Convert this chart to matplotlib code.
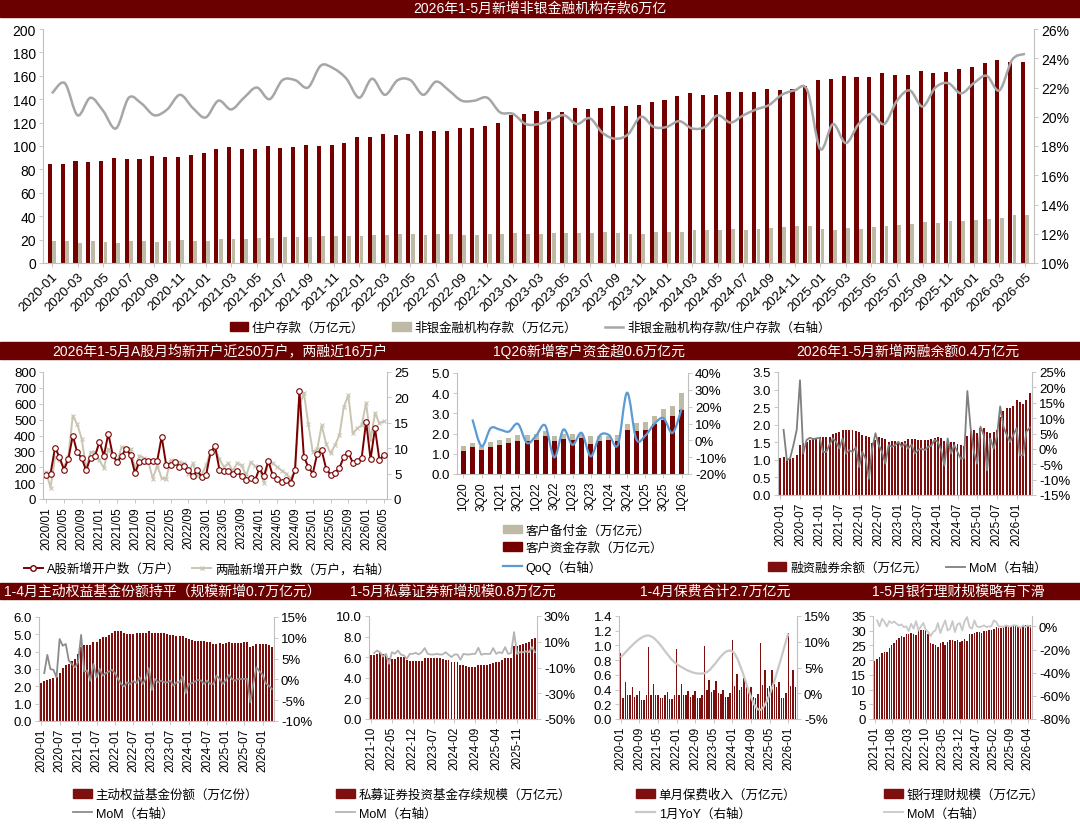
import numpy as np
import pandas as pd
import matplotlib
matplotlib.use("Agg")
import matplotlib.pyplot as plt
from matplotlib.patches import Rectangle, Patch, PathPatch
from matplotlib.lines import Line2D
from matplotlib.path import Path
from matplotlib.ticker import FuncFormatter, MultipleLocator

plt.rcParams['font.family'] = ['Liberation Sans', 'Noto Sans CJK SC', 'DejaVu Sans']
plt.rcParams['axes.unicode_minus'] = False

# ---------------- data ----------------
# top: household deposits / non-bank deposits (2020-01 .. 2026-05)
months_top = pd.period_range('2020-01', '2026-05', freq='M').strftime('%Y-%m').tolist()
household_dep = [85, 85, 87.6, 86.7, 87, 89.6, 88.8, 89.3, 91.4, 90.2, 91, 92.5,
                 94, 97.4, 99.1, 97.7, 97.7, 99.7, 98.6, 98.8, 100.9, 99.7, 100.6, 102.3,
                 107.8, 107.5, 110, 109.2, 110, 112.7, 112.4, 113, 115.6, 115.3, 117, 119.9,
                 126.5, 127.4, 130.3, 129.1, 129.4, 132.3, 131.4, 132.3, 134.6, 134.3, 135.2, 137.2,
                 139.5, 142.7, 145.5, 143.5, 143.8, 146.4, 145.8, 146.4, 148.7, 148.1, 149, 151,
                 156.8, 157.3, 160.2, 158.8, 159.4, 162, 160.8, 160.8, 163.7, 162.5, 163.4, 165.7,
                 167.7, 171.2, 173.5, 171.5, 171.5]
nonbank_dep = [18.7, 18.5, 17.5, 18.5, 18, 17.5, 18.7, 18.7, 18.2, 18.7, 19.3, 18.7,
               18.7, 20.3, 20.3, 20.6, 21, 21.3, 22, 22, 22, 23, 23, 23,
               22.8, 24, 23.6, 24.5, 24.5, 24, 24.8, 24.5, 23.9, 23.9, 24.8, 24.5,
               25.4, 25, 24.8, 25.6, 25.6, 25.6, 25.6, 26.2, 25.4, 24.8, 24.8, 26.5,
               26.5, 26.5, 28.2, 27.9, 27.9, 28.8, 28.5, 29, 29.7, 30.8, 31.7, 32,
               28.8, 28.2, 30.3, 29, 30.5, 32, 32.2, 33.7, 35.2, 34.5, 35.7, 35.7,
               36.6, 37.5, 38.6, 40.6, 41.2]
ratio_pct = [21.6, 22.3, 20.1, 21.3, 20.4, 19.2, 21.3, 20.9, 20.1, 20.5, 21.5, 20.6,
             19.95, 21.1, 20.5, 21.3, 22.0, 21.2, 22.5, 22.5, 22.0, 23.5, 23.3, 22.6,
             21.3, 22.6, 21.5, 22.5, 22.5, 21.5, 22.4, 21.8, 21.1, 21.1, 21.3, 20.3,
             20.2, 19.5, 19.5, 19.8, 20.1, 19.5, 19.9, 18.9, 18.5, 18.8, 20.0, 19.3,
             19.3, 19.7, 19.2, 19.3, 20.1, 19.6, 20.1, 20.5, 20.8, 21.5, 21.8, 21.8,
             17.8, 19.5, 18.2, 19.5, 20.2, 19.5, 21.1, 21.8, 20.7, 22.0, 22.3, 21.6,
             22.3, 22.8, 21.8, 23.9, 24.3]

# middle 1: new A-share accounts / new margin accounts (2020/01 .. 2026/05)
months_m1 = pd.period_range('2020-01', '2026-05', freq='M').strftime('%Y/%m').tolist()
a_new_accounts = [149, 160, 323, 265, 185, 250, 400, 293, 259, 180,
                  261, 270, 361, 272, 412, 276, 234, 272, 318, 276,
                  163, 234, 240, 238, 238, 240, 393, 217, 212, 234,
                  202, 208, 180, 144, 180, 140, 153, 293, 333, 185,
                  174, 176, 159, 176, 142, 121, 134, 117, 193, 142,
                  240, 149, 127, 110, 117, 102, 180, 680, 265, 202,
                  159, 286, 308, 191, 153, 166, 197, 265, 291, 229,
                  242, 259, 488, 250, 446, 244, 280]
margin_new_accounts = [5.3, 2.2, 8.3, 7.6, 6.3, 8.3, 16.4, 14.7, 11.9, 6.0,
                       9.2, 9.2, 7.6, 6.1, 9.9, 8.3, 7.3, 10.3, 9.9, 9.9,
                       6.0, 8.5, 8.1, 7.3, 4.0, 6.6, 4.1, 4.0, 7.6, 7.2,
                       7.2, 7.0, 5.0, 7.0, 4.6, 4.8, 6.6, 9.3, 9.9, 7.8,
                       6.3, 7.0, 5.6, 7.0, 6.6, 4.6, 7.2, 6.5, 6.0, 3.2,
                       7.3, 7.0, 6.3, 5.6, 5.0, 4.0, 5.6, 18.2, 20.9, 14.7,
                       9.3, 9.8, 14.5, 10.9, 9.0, 10.6, 12.6, 18.2, 20.4, 12.9,
                       13.9, 14.5, 18.9, 11.6, 16.9, 14.9, 15.3]

# middle 2: client funds, quarterly 1Q20 .. 1Q26
quarters = [f'{q}Q{y}' for y in range(20, 27) for q in range(1, 5)][:25]
client_deposit = [1.16, 1.32, 1.21, 1.32, 1.46, 1.54, 1.62, 1.62, 1.69, 1.90, 1.61, 1.74, 1.69,
                  1.77, 1.49, 1.61, 1.66, 1.62, 2.19, 2.12, 2.19, 2.47, 2.68, 2.86, 3.19]
client_reserve = [0.21, 0.22, 0.20, 0.25, 0.23, 0.25, 0.33, 0.32, 0.28, 0.25, 0.29, 0.25, 0.30,
                  0.22, 0.38, 0.29, 0.24, 0.32, 0.29, 0.40, 0.38, 0.38, 0.55, 0.53, 0.82]
client_qoq = [12.4, -3.5, 7.2, 6.4, 5.2, 9.8, -1.6, 2.8, 8.8, -10.1, 6.4, -2.7,
              4.4, -9.5, 2.8, 3.2, -2.7, 28.3, 0.8, 2.8, 9.8, 13.2, 4.4, 18.7]

# middle 3: margin balance (2020-01 .. 2026-05)
months_m3 = pd.period_range('2020-01', '2026-05', freq='M').strftime('%Y-%m').tolist()
margin_balance = [1.04, 1.08, 1.02, 1.02, 1.06, 1.15, 1.42, 1.47, 1.50, 1.57,
                  1.61, 1.63, 1.65, 1.64, 1.65, 1.65, 1.73, 1.77, 1.78, 1.85,
                  1.84, 1.84, 1.84, 1.83, 1.80, 1.71, 1.69, 1.64, 1.48, 1.56,
                  1.66, 1.61, 1.58, 1.51, 1.53, 1.53, 1.51, 1.51, 1.55, 1.58,
                  1.58, 1.59, 1.56, 1.56, 1.56, 1.56, 1.59, 1.63, 1.65, 1.63,
                  1.53, 1.50, 1.50, 1.50, 1.46, 1.42, 1.40, 1.69, 1.83, 1.85,
                  1.76, 1.92, 1.90, 1.78, 1.76, 1.78, 1.84, 2.23, 2.38, 2.47,
                  2.47, 2.53, 2.70, 2.65, 2.60, 2.70, 2.89]
margin_mom = [np.nan, 6.2, -3.7, -3.0, 1.2, 6.2, 22.3, -1.5, 2.9, 3.6,
              3.2, 3.4, 3.6, -1.0, -1.0, 1.4, 3.4, 2.3, 0.1, 3.4,
              -1.5, -0.4, -1.0, 0.5, -5.9, -1.0, -3.2, -9.7, 0.1, 5.1,
              1.2, -1.0, -4.8, 1.2, 0.7, 1.2, 2.3, 0.7, 1.8, 0.1,
              1.4, -1.5, -0.4, 0.1, -0.4, 0.6, 1.0, 2.9, 2.3, -0.4,
              -5.4, 3.4, -1.5, 1.2, -1.0, -3.2, -3.0, 18.8, 6.7, -1.0,
              -4.8, 7.2, 4.5, -7.0, 3.4, 0.1, 4.0, 13.8, 7.2, 4.5,
              2.3, 4.5, 6.7, -2.1, -2.1, 5.6, 6.9]

# bottom 1: active equity fund shares (2020-01 .. 2026-04)
months_b1 = pd.period_range('2020-01', '2026-04', freq='M').strftime('%Y-%m').tolist()
equity_fund_shares = [2.20, 2.28, 2.37, 2.43, 2.47, 2.52, 2.77, 3.04, 3.25, 3.31,
                      3.44, 3.55, 3.84, 4.25, 4.36, 4.39, 4.39, 4.53, 4.53, 4.72,
                      4.86, 4.86, 4.96, 5.05, 5.20, 5.20, 5.20, 5.06, 5.01, 5.01,
                      5.01, 5.05, 5.05, 5.09, 5.07, 5.20, 5.09, 5.07, 5.07, 5.05,
                      5.05, 5.01, 4.96, 4.94, 4.91, 4.89, 4.93, 4.76, 4.72, 4.68,
                      4.63, 4.63, 4.59, 4.59, 4.55, 4.55, 4.44, 4.47, 4.51, 4.47,
                      4.51, 4.57, 4.51, 4.51, 4.51, 4.51, 4.53, 4.53, 4.28, 4.30,
                      4.44, 4.47, 4.47, 4.44, 4.38, 4.28]
equity_fund_mom = [np.nan, 1.5, 5.9, 2.5, 2.3, 0.5, 9.7, 8.1, 8.5, 4.5,
                   3.7, 2.9, 4.1, 10.7, 1.9, 2.1, -0.3, 3.7, 0.5, 2.5,
                   0.9, 1.5, 1.9, 2.3, 1.5, 0.1, -1.1, -1.7, -0.7, -1.1,
                   -0.4, -0.9, 0.5, -1.1, 0.1, 2.7, -2.5, 0.1, -0.7, -0.3,
                   -0.7, -0.7, -0.3, -1.5, -0.7, -0.7, 0.7, -3.3, -1.1, -0.9,
                   -0.5, -0.1, -0.3, -1.1, -0.3, -1.1, -1.1, 0.9, 0.1, -1.1,
                   -0.3, 1.1, 0.1, -0.3, 0.1, 0.1, 0.1, 0.1, -5.5, -0.9,
                   2.9, 1.9, 1.1, -0.9, -1.5, -2.3]

# bottom 2: private securities funds (2021-10 .. 2026-05)
months_b2 = pd.period_range('2021-10', '2026-05', freq='M').strftime('%Y-%m').tolist()
private_funds = [6.17, 6.23, 6.33, 6.43, 6.33, 6.20, 5.94, 5.84, 5.84, 6.00,
                 6.04, 6.00, 5.68, 5.62, 5.62, 5.65, 5.65, 5.65, 5.94, 5.97,
                 5.97, 5.94, 5.94, 5.88, 5.78, 5.75, 5.75, 5.58, 5.52, 5.49,
                 5.26, 5.23, 5.19, 5.06, 5.06, 5.06, 5.26, 5.29, 5.26, 5.29,
                 5.32, 5.45, 5.55, 5.58, 5.68, 5.94, 5.97, 5.97, 7.05, 7.08,
                 7.14, 7.31, 7.37, 7.47, 7.79, 7.89]
private_mom = [np.nan, 1.2, 3.2, 1.9, -1.4, 0.6, -7.1, 1.9, 0.6, 3.2,
               0.1, -0.6, -3.2, 0.6, 0.6, 1.4, 0.1, 1.9, 5.1, 0.6,
               0.1, 0.1, 0.6, 0.1, 0.1, 1.9, -0.1, -1.9, 0.1, 0.1,
               -4.0, 0.6, 0.1, 0.1, 0.6, 0.6, 5.3, -0.1, 0.6, 0.6,
               0.6, 5.1, 0.6, 1.9, 1.2, 5.8, 0.6, 1.2, 17.5, 0.6,
               1.9, 1.9, 2.5, 1.9, 5.8, 1.9]

# bottom 3: monthly premium income (2020-01 .. 2026-04), January YoY
months_b3 = pd.period_range('2020-01', '2026-04', freq='M').strftime('%Y-%m').tolist()
premium = [0.90, 0.28, 0.50, 0.33, 0.33, 0.43, 0.30, 0.33, 0.38, 0.26, 0.26, 0.33,
           0.98, 0.33, 0.48, 0.33, 0.33, 0.28, 0.29, 0.32, 0.37, 0.27, 0.27, 0.33,
           0.95, 0.33, 0.48, 0.33, 0.33, 0.38, 0.30, 0.33, 0.38, 0.28, 0.28, 0.33,
           0.99, 0.40, 0.53, 0.37, 0.40, 0.52, 0.36, 0.34, 0.40, 0.30, 0.30, 0.35,
           1.07, 0.45, 0.61, 0.40, 0.43, 0.56, 0.43, 0.38, 0.43, 0.30, 0.28, 0.34,
           1.03, 0.46, 0.66, 0.42, 0.45, 0.67, 0.47, 0.44, 0.50, 0.28, 0.28, 0.36,
           1.17, 0.45, 0.66, 0.43]
jan_months = ['2020-01', '2021-01', '2022-01', '2023-01', '2024-01', '2025-01', '2026-01']
jan_yoy = [7.0, 11.2, 5.7, 3.9, 8.1, -3.2, 11.6]

# bottom 4: bank wealth management (2021-01 .. 2026-05)
months_b4 = pd.period_range('2021-01', '2026-05', freq='M').strftime('%Y-%m').tolist()
wealth_mgmt = [19.7, 20.5, 21.1, 22.5, 22.8, 22.7, 24.2, 25.3, 25.9, 26.7,
               27.6, 28.1, 27.8, 28.8, 28.8, 29.2, 29.0, 28.6, 30.1, 30.3,
               30.1, 30.7, 29.0, 25.9, 25.6, 25.3, 24.5, 25.9, 26.0, 25.3,
               26.1, 26.7, 26.7, 26.4, 26.7, 26.1, 26.4, 27.3, 26.5, 29.0,
               29.0, 29.3, 29.5, 29.5, 29.3, 29.9, 29.9, 30.1, 30.1, 30.7,
               31.3, 30.9, 30.9, 31.3, 31.5, 31.5, 31.5, 31.8, 31.8, 31.5,
               31.3, 31.6, 31.8, 31.6, 32.0]
wealth_mom = [np.nan, 5.2, 0.0, 6.6, 3.8, 0.0, 4.6, 2.9, 4.3, 2.3,
              0.9, 1.7, -0.6, 0.0, -4.0, 2.3, -2.0, 4.6, -3.5, 0.0,
              2.9, -2.9, -4.9, -8.4, -4.9, -3.5, 2.9, -5.8, 0.0, 5.2,
              -3.5, -2.0, 4.6, -4.9, 1.7, 2.9, -3.5, 4.6, 8.1, -0.6,
              -2.0, 5.2, 0.0, -0.6, 0.0, 0.9, -0.6, 0.0, 0.0, 5.2,
              3.8, 0.0, 0.0, -0.6, 0.9, 0.0, 0.0, 0.9, 0.9, 0.0,
              -1.2, 0.9, -0.6, 0.9, 0.0]

# ---------------- style ----------------
DARK = '#6B0000'
RED = '#740000'
BAR_RED = '#7E0F0F'
BEIGE = '#BEBAA6'
GRAY = '#A6A6A6'
AXIS = '#BFBFBF'
W, H = 1080, 828
TICK_FS = 9.5

fig = plt.figure(figsize=(W / 100, H / 100), dpi=100)
pct = FuncFormatter(lambda v, p: f'{v:.0f}%')
one_dec = FuncFormatter(lambda v, p: f'{v:.1f}')


def px_axes(x0, y0, x1, y1):
    return fig.add_axes([x0 / W, 1 - y1 / H, (x1 - x0) / W, (y1 - y0) / H])


def style(ax, ax2, fs=TICK_FS):
    for a in (ax, ax2):
        for s in a.spines.values():
            s.set_color(AXIS)
            s.set_linewidth(0.8)
        a.spines['top'].set_visible(False)
        a.tick_params(colors='black', labelsize=fs, length=3, width=0.6, pad=2)
        a.tick_params(axis='both', color=AXIS)
    ax.spines['right'].set_visible(False)
    ax2.spines['left'].set_visible(False)
    ax2.spines['bottom'].set_visible(False)


def smooth_line(ax, x, y, **kw):
    # Excel style smoothed line drawn as bezier path through the data points
    pts = np.column_stack([x, y]).astype(float)
    n = len(pts)
    verts = [pts[0]]
    codes = [Path.MOVETO]
    for i in range(n - 1):
        p0, p1, p2 = pts[max(i - 1, 0)], pts[i], pts[i + 1]
        p3 = pts[min(i + 2, n - 1)]
        verts += [p1 + (p2 - p0) / 6, p2 - (p3 - p1) / 6, p2]
        codes += [Path.CURVE4] * 3
    ax.add_patch(PathPatch(Path(verts, codes), fill=False, **kw))


def xlabels(ax, labels, step, rot=90, fs=8.5):
    idx = list(range(0, len(labels), step))
    ax.set_xticks(idx)
    if rot == 90:
        ax.set_xticklabels([labels[i] for i in idx], rotation=90, fontsize=fs)
    else:
        ax.set_xticklabels([labels[i] for i in idx], rotation=rot, ha='right',
                           rotation_mode='anchor', fontsize=fs)
    ax.set_xlim(-0.7, len(labels) - 0.3)


def title_bar(y0, y1):
    fig.add_artist(Rectangle((0, 1 - y1 / H), 1, (y1 - y0) / H,
                             transform=fig.transFigure, color=DARK, zorder=0))


def title(x, y, s):
    fig.text(x / W, 1 - y / H, s, color='white', fontsize=10, ha='center', va='center')


def legend(handles, labels, x, y, loc='center', ncol=1, **kw):
    fig.legend(handles, labels, loc=loc, bbox_to_anchor=(x / W, 1 - y / H), ncol=ncol,
               frameon=False, fontsize=9, borderpad=0, handletextpad=0.3,
               handlelength=1.5, **kw)


# ---------------- title bars ----------------
title_bar(0, 18)
title(540, 9, '2026年1-5月新增非银金融机构存款6万亿')
title_bar(343, 360)
title(220, 351.5, '2026年1-5月A股月均新开户近250万户，两融近16万户')
title(589, 351.5, '1Q26新增客户资金超0.6万亿元')
title(908, 351.5, '2026年1-5月新增两融余额0.4万亿元')
title_bar(584, 600)
title(162, 592, '1-4月主动权益基金份额持平（规模新增0.7万亿元）')
title(453, 592, '1-5月私募证券新增规模0.8万亿元')
title(715, 592, '1-4月保费合计2.7万亿元')
title(958, 592, '1-5月银行理财规模略有下滑')

# ---------------- top panel ----------------
ax = px_axes(43, 30, 1034, 264)
ax2 = ax.twinx()
x = np.arange(len(months_top))
ax.bar(x - 0.16, household_dep, width=0.32, color=RED)
ax.bar(x + 0.18, nonbank_dep, width=0.3, color=BEIGE)
smooth_line(ax2, x, ratio_pct, color=GRAY, lw=1.8)
ax.set_ylim(0, 200)
ax.yaxis.set_major_locator(MultipleLocator(20))
ax2.set_ylim(10, 26)
ax2.yaxis.set_major_locator(MultipleLocator(2))
ax2.yaxis.set_major_formatter(pct)
style(ax, ax2, fs=10)
xlabels(ax, months_top, 2, rot=45, fs=9.5)
legend([Patch(color=RED), Patch(color=BEIGE), Line2D([], [], color=GRAY, lw=1.8)],
       ['住户存款（万亿元）', '非银金融机构存款（万亿元）', '非银金融机构存款/住户存款（右轴）'],
       530, 329, ncol=3, columnspacing=2.2)

# ---------------- middle 1 ----------------
ax = px_axes(43, 373, 387, 500)
ax2 = ax.twinx()
x = np.arange(len(months_m1))
ax2.plot(x, margin_new_accounts, color='#C9C5B2', lw=1.4, marker='x', ms=3.5, mew=0.8)
ax.plot(x, a_new_accounts, color='#7A0000', lw=1.4, marker='o', ms=4,
        mfc='white', mec='#7A0000', mew=0.8)
ax.set_zorder(ax2.get_zorder() + 1)
ax.patch.set_visible(False)
ax.set_ylim(0, 800)
ax.yaxis.set_major_locator(MultipleLocator(100))
ax2.set_ylim(0, 25)
ax2.yaxis.set_major_locator(MultipleLocator(5))
style(ax, ax2)
xlabels(ax, months_m1, 4)
legend([Line2D([], [], color='#7A0000', lw=1.4, marker='o', ms=4, mfc='white', mec='#7A0000'),
        Line2D([], [], color='#C9C5B2', lw=1.4, marker='x', ms=3.5)],
       ['A股新增开户数（万户）', '两融新增开户数（万户，右轴）'],
       207, 570, ncol=2, columnspacing=1.0)

# ---------------- middle 2 ----------------
ax = px_axes(457, 374, 688, 475)
ax2 = ax.twinx()
x = np.arange(len(quarters))
ax.bar(x, client_deposit, width=0.55, color=RED)
ax.bar(x, client_reserve, width=0.55, bottom=client_deposit, color=BEIGE)
smooth_line(ax2, x[1:], client_qoq, color='#5B9BD5', lw=1.6)
ax.set_ylim(0, 5)
ax.yaxis.set_major_locator(MultipleLocator(1))
ax.yaxis.set_major_formatter(one_dec)
ax2.set_ylim(-20, 40)
ax2.yaxis.set_major_locator(MultipleLocator(10))
ax2.yaxis.set_major_formatter(pct)
style(ax, ax2)
xlabels(ax, quarters, 2)
legend([Patch(color=BEIGE), Patch(color=RED), Line2D([], [], color='#5B9BD5', lw=1.6)],
       ['客户备付金（万亿元）', '客户资金存款（万亿元）', 'QoQ（右轴）'],
       497, 550, loc='center left', labelspacing=0.45)

# ---------------- middle 3 ----------------
ax = px_axes(778, 373, 1032, 496)
ax2 = ax.twinx()
x = np.arange(len(months_m3))
ax.bar(x, margin_balance, width=0.6, color=BAR_RED)
ax2.plot(x, margin_mom, color='#7F7F7F', lw=1.3)
ax.set_ylim(0, 3.5)
ax.yaxis.set_major_locator(MultipleLocator(0.5))
ax.yaxis.set_major_formatter(one_dec)
ax2.set_ylim(-15, 25)
ax2.yaxis.set_major_locator(MultipleLocator(5))
ax2.yaxis.set_major_formatter(pct)
style(ax, ax2)
xlabels(ax, months_m3, 6)
legend([Patch(color=BAR_RED), Line2D([], [], color='#7F7F7F', lw=1.3)],
       ['融资融券余额（万亿元）', 'MoM（右轴）'], 907, 569, ncol=2, columnspacing=1.5)

# ---------------- bottom 1 ----------------
ax = px_axes(39, 618, 274, 722)
ax2 = ax.twinx()
x = np.arange(len(months_b1))
ax.bar(x, equity_fund_shares, width=0.65, color=BAR_RED)
ax2.plot(x, equity_fund_mom, color='#8C8C8C', lw=1.3)
ax.set_ylim(0, 6)
ax.yaxis.set_major_locator(MultipleLocator(1))
ax.yaxis.set_major_formatter(one_dec)
ax2.set_ylim(-10, 15)
ax2.yaxis.set_major_locator(MultipleLocator(5))
ax2.yaxis.set_major_formatter(pct)
style(ax, ax2)
xlabels(ax, months_b1, 6)
legend([Patch(color=BAR_RED), Line2D([], [], color='#8C8C8C', lw=1.3)],
       ['主动权益基金份额（万亿份）', 'MoM（右轴）'], 67, 805, loc='center left',
       labelspacing=0.5)

# ---------------- bottom 2 ----------------
ax = px_axes(369, 617, 537, 720)
ax2 = ax.twinx()
x = np.arange(len(months_b2))
ax.bar(x, private_funds, width=0.65, color=BAR_RED)
ax2.plot(x, private_mom, color='#B4B4B4', lw=1.3)
ax.set_ylim(0, 10)
ax.yaxis.set_major_locator(MultipleLocator(2))
ax.yaxis.set_major_formatter(one_dec)
ax2.set_ylim(-50, 30)
ax2.set_yticks([-50, -30, -10, 10, 30])
ax2.yaxis.set_major_formatter(pct)
style(ax, ax2)
xlabels(ax, months_b2, 7)
legend([Patch(color=BAR_RED), Line2D([], [], color='#B4B4B4', lw=1.3)],
       ['私募证券投资基金存续规模（万亿元）', 'MoM（右轴）'], 330, 805, loc='center left',
       labelspacing=0.5)

# ---------------- bottom 3 ----------------
ax = px_axes(619, 617, 797, 720)
ax2 = ax.twinx()
x = np.arange(len(months_b3))
ax.bar(x, premium, width=0.6, color=BAR_RED)
smooth_line(ax2, [months_b3.index(m) for m in jan_months], jan_yoy, color='#C8C8C8', lw=1.6)
ax.set_ylim(0, 1.4)
ax.yaxis.set_major_locator(MultipleLocator(0.2))
ax.yaxis.set_major_formatter(one_dec)
ax2.set_ylim(-5, 15)
ax2.yaxis.set_major_locator(MultipleLocator(5))
ax2.yaxis.set_major_formatter(pct)
style(ax, ax2)
xlabels(ax, months_b3, 8)
legend([Patch(color=BAR_RED), Line2D([], [], color='#C8C8C8', lw=1.6)],
       ['单月保费收入（万亿元）', '1月YoY（右轴）'], 630, 805, loc='center left',
       labelspacing=0.5)

# ---------------- bottom 4 ----------------
ax = px_axes(873, 617, 1032, 720)
ax2 = ax.twinx()
x = np.arange(len(months_b4))
ax.bar(x, wealth_mgmt, width=0.6, color=BAR_RED)
ax2.plot(x, wealth_mom, color='#C8C8C8', lw=1.3)
ax.set_ylim(0, 35)
ax.yaxis.set_major_locator(MultipleLocator(5))
ax2.set_ylim(-80, 9)
ax2.set_yticks([-80, -60, -40, -20, 0])
ax2.yaxis.set_major_formatter(pct)
style(ax, ax2)
xlabels(ax, months_b4, 7)
legend([Patch(color=BAR_RED), Line2D([], [], color='#C8C8C8', lw=1.3)],
       ['银行理财规模（万亿元）', 'MoM（右轴）'], 878, 805, loc='center left',
       labelspacing=0.5)

fig.savefig('out.png', dpi=100, facecolor='white')
